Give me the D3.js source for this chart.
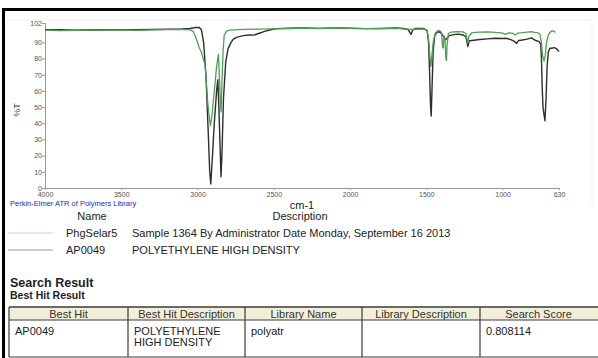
<!DOCTYPE html>
<html>
<head>
<meta charset="utf-8">
<script src="https://cdn.jsdelivr.net/npm/d3@7"></script>
<style>
  html, body { margin: 0; padding: 0; background: #fff; }
  svg { display: block; }
  text { font-family: Arial, "Liberation Sans", sans-serif; }
</style>
</head>
<body>
<div id="chart"></div>
<script>
// ---------------- DATA ----------------
const xTicks = [4000, 3500, 3000, 2500, 2000, 1500, 1000, 630];
const yTicks = [0, 10, 20, 30, 40, 50, 60, 70, 80, 90, 102];

// Sample spectrum (PhgSelar5) – green
const sampleWn = [4000,3900,3800,3700,3600,3500,3400,3300,3200,3100,3050,3030,3015,3000,2990,2975,2960,2952,2945,2935,2925,2915,2905,2890,2875,2863,2857,2850,2846,2840,2832,2825,2810,2790,2700,2600,2500,2400,2300,2200,2100,2000,1900,1800,1700,1600,1520,1495,1485,1475,1470,1465,1455,1440,1425,1411,1400,1393,1389,1385,1378,1372,1368,1364,1355,1340,1300,1260,1240,1228,1220,1200,1150,1100,1050,1000,980,960,930,916,900,870,840,810,790,770,755,745,738,728,720,712,700,690,676,665,654];
const sampleT  = [97.6,97.3,97.5,97.7,97.4,97.7,97.5,97.8,97.9,98.0,97.8,97.0,94,90,87,84,79,77,70,55,45,38.5,45,60,75,82.6,70,52,47,65,85,94.5,97,97.6,98.0,98.2,98.4,98.6,98.7,98.6,98.9,98.7,98.5,98.5,98.7,98.0,98.3,97.5,92,80,75,80,90,96,97.2,97.3,96.0,87,86.5,94,93,80,78.7,88,95.5,96.3,96.6,96.5,95.5,89.5,94,96.0,96.3,96.5,96.2,95.8,95.0,95.9,95.6,94.5,95.8,96.0,96.3,96.6,96.2,96.0,95,90,82,78.5,82,90,94.5,96,97.2,97.0,96.2];

// Library spectrum (AP0049 Polyethylene HD) – dark
const refWn = [4000,3900,3800,3700,3600,3500,3400,3300,3200,3100,3050,3010,2990,2975,2960,2945,2930,2920,2913,2905,2890,2875,2867,2860,2852,2846,2840,2830,2815,2800,2780,2765,2740,2700,2660,2630,2600,2560,2520,2480,2400,2300,2200,2100,2000,1900,1800,1700,1650,1620,1600,1590,1570,1520,1495,1485,1478,1472,1468,1463,1455,1445,1430,1415,1400,1385,1375,1365,1350,1320,1290,1260,1240,1228,1218,1200,1150,1100,1050,1000,980,950,925,908,895,870,840,810,790,760,750,745,740,735,728,722,715,708,700,690,678,660,647,630];
const refT  = [97.8,97.9,97.6,97.8,97.7,97.9,97.8,98.0,98.1,98.3,98.6,99.2,99.3,98.0,90,70,35,10,2.5,15,40,60,67,50,25,7,20,55,78,86,90,92,93.3,94.2,94.6,94.5,95.5,96.8,97.8,98.5,98.8,98.9,98.7,99.0,98.8,98.5,98.6,98.9,98.6,98.0,95.0,97.5,98.7,98.6,97.5,90,70,50,44.5,60,85,94,96.3,96.6,95.3,93.5,91.5,92.5,94.2,94.8,95.1,94.6,93.5,87.5,91.0,91.2,91.8,92.2,92.6,92.4,92.6,91.9,90.8,89.4,91.2,91.5,92.0,92.8,91.5,90.5,89,80,62,50,45,41.6,55,75,84,86.4,86.4,86.8,86.2,84.3];

const legendNames = ["PhgSelar5", "AP0049"];
const legendDescs = ["Sample 1364 By Administrator Date Monday, September 16 2013", "POLYETHYLENE HIGH DENSITY"];

const tableHeaders = ["Best Hit", "Best Hit Description", "Library Name", "Library Description", "Search Score"];
const tableRow = [["AP0049"], ["POLYETHYLENE", "HIGH DENSITY"], ["polyatr"], [], ["0.808114"]];

// ---------------- DRAW ----------------
const W = 598, H = 358;
const svg = d3.select("#chart").append("svg").attr("width", W).attr("height", H);

// frame
svg.append("rect").attr("x", 0).attr("y", 0).attr("width", W).attr("height", H).attr("fill", "#fff");
svg.append("line").attr("x1", 5).attr("x2", 592).attr("y1", 20).attr("y2", 20).attr("stroke", "#eeeeee");
svg.append("line").attr("x1", 592).attr("x2", 592).attr("y1", 20).attr("y2", 205).attr("stroke", "#eeeeee");
svg.append("rect").attr("x", 2).attr("y", 8).attr("width", W).attr("height", 3).attr("fill", "#000");
svg.append("rect").attr("x", 2).attr("y", 8).attr("width", 3).attr("height", H).attr("fill", "#000");

const x = d3.scaleLinear().domain([4000, 630]).range([45, 559]);
const y = d3.scaleLinear().domain([0, 102]).range([188, 23]);

const axisColor = "#999";
const gx = svg.append("g").attr("transform", "translate(0,188)")
  .call(d3.axisBottom(x).tickValues(xTicks).tickSize(2).tickFormat(d3.format("d")));
const gy = svg.append("g").attr("transform", "translate(45,0)")
  .call(d3.axisLeft(y).tickValues(yTicks).tickSize(3).tickFormat(d3.format("d")));
[gx, gy].forEach(g => {
  g.select(".domain").attr("stroke", axisColor);
  g.selectAll(".tick line").attr("stroke", axisColor);
  g.selectAll(".tick text").attr("fill", "#555").style("font-size", "7px")
    .style("font-family", "Arial, 'Liberation Sans', sans-serif");
});
gx.selectAll(".tick text").attr("dy", "0.6em");
gy.selectAll(".tick text").attr("x", -3);

svg.append("text").attr("transform", "translate(20,110) rotate(-90)")
  .attr("text-anchor", "middle").attr("fill", "#444").style("font-size", "9px").text("%T");

const line = d3.line().x(d => x(d[0])).y(d => y(d[1]));
const sampleData = sampleWn.map((w, i) => [w, sampleT[i]]);
const refData = refWn.map((w, i) => [w, refT[i]]);

svg.append("path").datum(refData).attr("d", line).attr("fill", "none")
  .attr("stroke", "#2e2e2e").attr("stroke-width", 1.4).attr("stroke-linejoin", "round");
svg.append("path").datum(sampleData).attr("d", line).attr("fill", "none")
  .attr("stroke", "#4f9f55").attr("stroke-width", 1.3).attr("stroke-linejoin", "round");

// library caption & axis title
svg.append("text").attr("x", 10).attr("y", 206).attr("fill", "#2b2ba6")
  .style("font-size", "7.5px").text("Perkin-Elmer ATR of Polymers Library");
svg.append("text").attr("x", 302).attr("y", 209).attr("text-anchor", "middle")
  .attr("fill", "#222").style("font-size", "11px").text("cm-1");
svg.append("text").attr("x", 92).attr("y", 220).attr("text-anchor", "middle")
  .attr("fill", "#222").style("font-size", "11px").text("Name");
svg.append("text").attr("x", 300).attr("y", 220).attr("text-anchor", "middle")
  .attr("fill", "#222").style("font-size", "11px").text("Description");

// legend
const legendColors = ["#c9d8c9", "#9a9a9a"];
legendNames.forEach((n, i) => {
  const yy = 233 + i * 17;
  svg.append("line").attr("x1", 8).attr("x2", 53).attr("y1", yy).attr("y2", yy)
    .attr("stroke", legendColors[i]).attr("stroke-width", 1.2);
  svg.append("text").attr("x", 66).attr("y", yy + 4).attr("fill", "#222")
    .style("font-size", "11px").text(n);
  svg.append("text").attr("x", 132).attr("y", yy + 4).attr("fill", "#222")
    .style("font-size", "11px").text(legendDescs[i]);
});

// search result
svg.append("text").attr("x", 10).attr("y", 287).attr("fill", "#222")
  .style("font-size", "12.5px").style("font-weight", "bold").text("Search Result");
svg.append("text").attr("x", 10).attr("y", 299).attr("fill", "#222")
  .style("font-size", "10.5px").style("font-weight", "bold").text("Best Hit Result");

// table
const colX = [9, 128, 245, 362, 480, 600];
const tTop = 307, hBot = 320, tBot = 357;
svg.append("rect").attr("x", colX[0]).attr("y", tTop).attr("width", colX[5] - colX[0]).attr("height", hBot - tTop)
  .attr("fill", "#f1efd8");
const border = "#3a3a3a";
svg.append("line").attr("x1", colX[0]).attr("x2", 600).attr("y1", tTop).attr("y2", tTop).attr("stroke", border).attr("stroke-width", 1.5);
svg.append("line").attr("x1", colX[0]).attr("x2", 600).attr("y1", hBot).attr("y2", hBot).attr("stroke", border).attr("stroke-width", 1);
svg.append("line").attr("x1", colX[0]).attr("x2", 600).attr("y1", tBot).attr("y2", tBot).attr("stroke", border).attr("stroke-width", 1.2);
colX.slice(0, 5).forEach(cx => {
  svg.append("line").attr("x1", cx).attr("x2", cx).attr("y1", tTop).attr("y2", tBot)
    .attr("stroke", border).attr("stroke-width", 1.2);
});
tableHeaders.forEach((h, i) => {
  svg.append("text").attr("x", (colX[i] + Math.min(colX[i + 1], 597)) / 2).attr("y", 318)
    .attr("text-anchor", "middle").attr("fill", "#333").style("font-size", "11px").text(h);
});
tableRow.forEach((lines, i) => {
  lines.forEach((t, j) => {
    svg.append("text").attr("x", colX[i] + 6).attr("y", 335 + j * 11)
      .attr("fill", "#222").style("font-size", "11px").text(t);
  });
});
</script>
</body>
</html>
